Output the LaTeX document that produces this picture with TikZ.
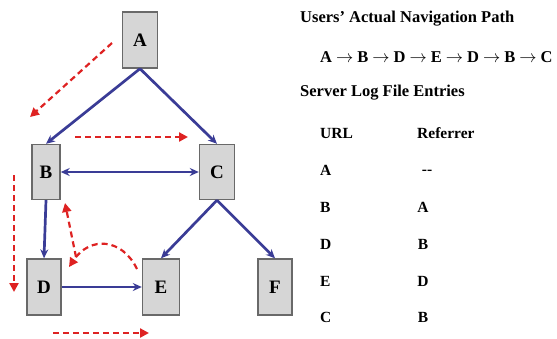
\documentclass[tikz,border=0pt]{standalone}
\usepackage{fontspec}
\setmainfont{Liberation Serif}
\usetikzlibrary{arrows.meta}
\definecolor{linkblue}{RGB}{58,60,150}
\definecolor{pathred}{RGB}{222,34,34}
\definecolor{boxfill}{RGB}{214,214,214}
\definecolor{boxline}{RGB}{105,105,105}
\tikzset{
  page/.style={draw=boxline, fill=boxfill, line width=1.4pt, inner sep=0pt,
    font=\fontsize{19}{22}\selectfont\bfseries},
  link/.style={draw=linkblue, line width=2.7pt, -{Stealth[length=9pt,width=8pt]}},
  twoway/.style={draw=linkblue, line width=2.7pt, {Stealth[length=9pt,width=8pt]}-{Stealth[length=9pt,width=8pt]}},
  visit/.style={draw=pathred, line width=2.2pt, dash pattern=on 6pt off 4pt,
    -{Triangle[length=9pt,width=9pt]}},
  heading/.style={anchor=west, inner sep=0pt, font=\fontsize{16.5}{19}\selectfont\bfseries},
  entry/.style={inner sep=0pt, font=\fontsize{15.5}{18}\selectfont\bfseries},
}
\newcommand{\navarrow}{\hspace{4pt}$\rightarrow$\hspace{4pt}}
\begin{document}
\begin{tikzpicture}[x=1pt, y=-1pt]
\useasboundingbox (0,0) rectangle (557,338);

% site pages
\node[page, minimum width=35pt, minimum height=56pt] (A) at (140,40) {A};
\node[page, minimum width=28pt, minimum height=55pt] (B) at (46,172) {B};
\node[page, minimum width=35pt, minimum height=55pt] (C) at (217,172) {C};
\node[page, minimum width=34pt, minimum height=56pt] (D) at (44,287) {D};
\node[page, minimum width=37pt, minimum height=56pt] (E) at (161,287) {E};
\node[page, minimum width=34pt, minimum height=56pt] (F) at (275,287) {F};

% hyperlinks between pages
\draw[link] (A.south) -- (B.north);
\draw[link] (A.south) -- (C.north);
\draw[twoway] (B.east) -- (C.west);
\draw[link] (B.south) -- (D.north);
\draw[link] (D.east) -- (E.west);
\draw[link] (C.south) -- (E.north);
\draw[link] (C.south) -- (F.north);

% the visitor's actual moves
\coordinate (v1s) at (112,43);  \coordinate (v1e) at (30,117);
\coordinate (v2s) at (75,137);  \coordinate (v2e) at (188,137);
\coordinate (v3s) at (14,175);  \coordinate (v3e) at (14,292);
\coordinate (v4s) at (137,269); \coordinate (v4e) at (69,267);
\coordinate (v5s) at (76,257);  \coordinate (v5e) at (65,203);
\coordinate (v6s) at (53,333);  \coordinate (v6e) at (149,333);
\draw[visit] (v1s) -- (v1e);
\draw[visit] (v2s) -- (v2e);
\draw[visit] (v3s) -- (v3e);
\draw[visit] (v4s) .. controls (122,238) and (90,236) .. (v4e);
\draw[visit] (v5s) -- (v5e);
\draw[visit] (v6s) -- (v6e);

% navigation path and log entries
\node[heading] (t1) at (300,19) {Users' Actual Navigation Path};
\node[anchor=west, inner sep=0pt, font=\fontsize{16.5}{19}\selectfont\bfseries] (p1) at (320,57)
  {A\navarrow B\navarrow D\navarrow E\navarrow D\navarrow B\navarrow C};
\node[heading] (t2) at (300,93) {Server Log File Entries};
\node[entry, anchor=west] (h1) at (320,133) {URL};
\node[entry, anchor=west] (h2) at (417,133) {Referrer};

\node[entry, anchor=west] (u1) at (320,170) {A};
\node[entry, anchor=west] (u2) at (320,207) {B};
\node[entry, anchor=west] (u3) at (320,244) {D};
\node[entry, anchor=west] (u4) at (320,281) {E};
\node[entry, anchor=west] (u5) at (320,317) {C};

\node[entry] (r1) at (427,172) {-{}-};
\node[entry] (r2) at (423,207) {A};
\node[entry] (r3) at (423,244) {B};
\node[entry] (r4) at (423,281) {D};
\node[entry] (r5) at (423,317) {B};
\end{tikzpicture}
\end{document}
